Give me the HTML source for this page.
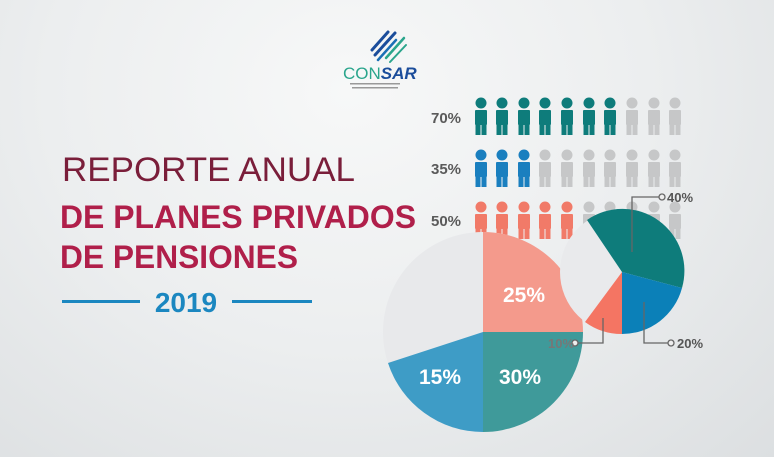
<!DOCTYPE html>
<html><head><meta charset="utf-8"><style>
html,body{margin:0;padding:0;}
body{width:774px;height:457px;overflow:hidden;background:radial-gradient(ellipse at 45% 20%,#f7f8f8 0%,#eceeef 50%,#dcdfe1 100%);}
svg{display:block}
</style></head><body>
<svg width="774" height="457" viewBox="0 0 774 457" xmlns="http://www.w3.org/2000/svg" font-family="Liberation Sans, sans-serif">
<defs>
<g id="p"><circle cx="0" cy="0" r="5.5"/><rect x="-6" y="7" width="12" height="15" rx="1"/><rect x="-5.5" y="21" width="5" height="11"/><rect x="0.5" y="21" width="5" height="11"/></g>
</defs>
<g stroke-linecap="round" fill="none">
<path d="M372 50 L388 32" stroke="#1b4d9b" stroke-width="3"/>
<path d="M375 55 L395 33" stroke="#1b4d9b" stroke-width="3"/>
<path d="M378 60 L396 40" stroke="#1b6fb5" stroke-width="2.5"/>
<path d="M386 58 L404 38" stroke="#2aa58c" stroke-width="2.5"/>
<path d="M390 62 L406 45" stroke="#2aa58c" stroke-width="2"/>
</g>
<text x="343" y="79" font-size="17" fill="#2aa58c">CON<tspan fill="#1b4d9b" font-weight="bold" font-style="italic">SAR</tspan></text>
<rect x="350" y="83" width="50" height="1.5" fill="#999"/>
<rect x="352" y="87" width="46" height="1.5" fill="#999"/>
<text x="62" y="181" font-size="34" fill="#7a1e3a" textLength="293" lengthAdjust="spacingAndGlyphs">REPORTE ANUAL</text>
<text x="60" y="228" font-size="32" font-weight="bold" fill="#b01f4a" textLength="356" lengthAdjust="spacingAndGlyphs">DE PLANES PRIVADOS</text>
<text x="60" y="268" font-size="32" font-weight="bold" fill="#b01f4a" textLength="238" lengthAdjust="spacingAndGlyphs">DE PENSIONES</text>
<rect x="62" y="300" width="78" height="3" fill="#1b87c0"/>
<rect x="232" y="300" width="80" height="3" fill="#1b87c0"/>
<text x="186" y="312" font-size="28" font-weight="bold" fill="#1b87c0" text-anchor="middle">2019</text>
<g font-weight="bold" font-size="15" fill="#5a5a5a">
<text x="431" y="123">70%</text><text x="431" y="174">35%</text><text x="431" y="226">50%</text>
</g>
<g fill="#0e7c7b">
<use href="#p" x="481" y="103"/><use href="#p" x="502" y="103"/><use href="#p" x="524" y="103"/><use href="#p" x="545" y="103"/><use href="#p" x="567" y="103"/><use href="#p" x="589" y="103"/><use href="#p" x="610" y="103"/>
</g>
<g fill="#c6c7c8">
<use href="#p" x="632" y="103"/><use href="#p" x="654" y="103"/><use href="#p" x="675" y="103"/>
<use href="#p" x="545" y="155"/><use href="#p" x="567" y="155"/><use href="#p" x="589" y="155"/><use href="#p" x="610" y="155"/><use href="#p" x="632" y="155"/><use href="#p" x="654" y="155"/><use href="#p" x="675" y="155"/>
<use href="#p" x="589" y="207"/><use href="#p" x="610" y="207"/><use href="#p" x="632" y="207"/><use href="#p" x="654" y="207"/><use href="#p" x="675" y="207"/>
</g>
<g fill="#1a7fbf">
<use href="#p" x="481" y="155"/><use href="#p" x="502" y="155"/><use href="#p" x="524" y="155"/>
<clipPath id="half"><rect x="539" y="140" width="6" height="50"/></clipPath>
<use href="#p" x="545" y="155" clip-path="url(#half)"/>
</g>
<g fill="#f27461" opacity="0.95">
<use href="#p" x="481" y="207"/><use href="#p" x="502" y="207"/><use href="#p" x="524" y="207"/><use href="#p" x="545" y="207"/><use href="#p" x="567" y="207"/>
</g>
<circle cx="483" cy="332" r="100" fill="#e8e9eb"/>
<path d="M483 332 L483 232 A100 100 0 0 1 583 332 Z" fill="#f49a8c"/>
<path d="M483 332 L583 332 A100 100 0 0 1 483 432 Z" fill="#3f9a9a"/>
<path d="M483 332 L483 432 A100 100 0 0 1 388 363 Z" fill="#3e9cc6"/>
<g fill="#fff" font-weight="bold" font-size="21" text-anchor="middle">
<text x="524" y="302">25%</text><text x="520" y="384">30%</text><text x="440" y="384">15%</text>
</g>
<circle cx="622" cy="272" r="62" fill="#e9eaec"/>
<path d="M622 272 L587 220 A62 62 0 0 1 682 288 Z" fill="#0e7c7b"/>
<path d="M622 272 L682 288 A62 62 0 0 1 622 334 Z" fill="#0b80b8"/>
<path d="M622 272 L622 334 A62 62 0 0 1 585 322 Z" fill="#f47563"/>
<g stroke="#666" stroke-width="1.3" fill="none">
<polyline points="632,252 632,197 659,197"/><circle cx="662" cy="197" r="3" fill="#eee"/>
<polyline points="644,302 644,343 668,343"/><circle cx="671" cy="343" r="3" fill="#eee"/>
<polyline points="603,318 603,343 578,343"/><circle cx="575" cy="343" r="3" fill="#eee"/>
</g>
<g font-weight="bold" font-size="13" fill="#555">
<text x="667" y="202">40%</text><text x="677" y="348">20%</text><text x="548" y="348" fill="#777">10%</text>
</g>
</svg>
</body></html>
